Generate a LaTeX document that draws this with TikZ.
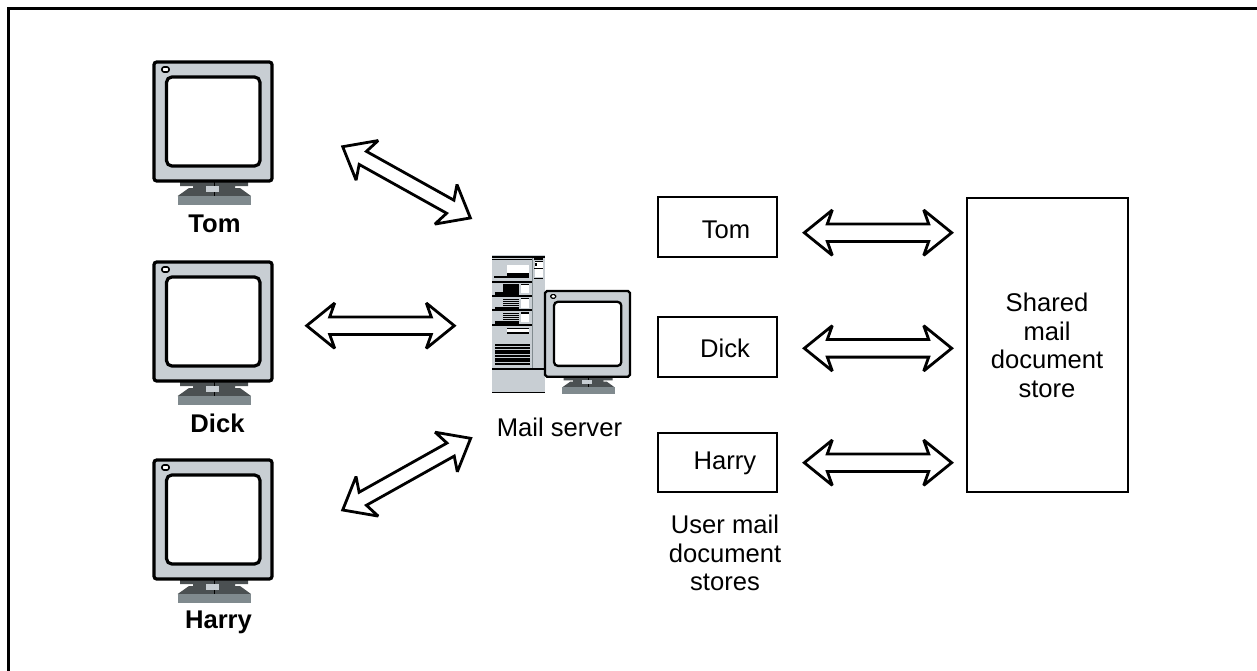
\documentclass[tikz,border=0pt]{standalone}
\usepackage{fontspec}
\setmainfont{Liberation Sans}
\usetikzlibrary{calc}
\definecolor{mgray}{HTML}{C8CED3}
\definecolor{mdark}{HTML}{4B5052}
\definecolor{mbase}{HTML}{808A8E}
\tikzset{
  lbl/.style={font=\fontsize{19.2}{21.5}\selectfont,inner sep=0pt,align=center},
  blbl/.style={lbl,font=\fontsize{19.2}{21.5}\selectfont\bfseries},
  store/.style={draw=black,line width=2pt,fill=white},
  barrow/.style={draw=black,fill=white,line width=2.1pt,line join=miter,miter limit=3},
  blk/.style={fill=black,draw=none},
  wht/.style={fill=white,draw=none},
}
% #1 tip A, #2 tip B (named coordinates), #3 shaft half width in pt
\newcommand{\blockarrow}[3]{%
  \draw[barrow]
   let \p1=(#1),\p2=(#2),\n1={veclen(\x2-\x1,\y2-\y1)},\n2={atan2(\y2-\y1,\x2-\x1)} in
   [shift={(\p1)},rotate=\n2]
   (0pt,0pt) -- (21pt,17pt) -- (17.25pt,#3) -- ({\n1-17.25pt},#3) -- ({\n1-21pt},17pt)
   -- ({\n1},0pt) -- ({\n1-21pt},-17pt) -- ({\n1-17.25pt},-#3)
   -- (17.25pt,-#3) -- (21pt,-17pt) -- cycle;}
% monitor: #1 left, #2 top, #3 scale
\newcommand{\monitor}[3]{%
 \begin{scope}[shift={(#1,#2)},x=#3*0.75pt,y=#3*0.75pt]
  % stand
  \fill[mdark] (26,-119) -- (94,-119) -- (94,-124) -- (81,-124) -- (81,-126) -- (86,-126) -- (97,-134) -- (23.7,-134) -- (35,-126) -- (39,-126) -- (39,-124) -- (26,-124) -- cycle;
  \fill[mbase] (23.7,-134) rectangle (97,-143);
  \draw[black,line width=0.5pt] (60,-119) -- (60,-134);
  \fill[mgray] (51.5,-123.5) rectangle (65,-129.5);
  \filldraw[fill=mgray,draw=black,line width=#3*2.4pt,rounded corners=#3*2pt] (0,0) rectangle (118,-119);
  \filldraw[fill=white,draw=black,line width=#3*2.4pt,rounded corners=#3*4pt] (12.5,-15) rectangle (106,-104);
  \filldraw[fill=white,draw=black,line width=#3*1.2pt,rounded corners=#3*1.5pt] (8,-5) rectangle (15,-10);
 \end{scope}}
\begin{document}
\begin{tikzpicture}[x=0.75pt,y=0.75pt]
\useasboundingbox (0,0) rectangle (1257,-671);
\fill[white] (0,0) rectangle (1257,-671);
\draw[black,line width=2.2pt] (8.5,-671) -- (8.5,-8.5) -- (1257,-8.5);
\monitor{154}{-62}{1}
\monitor{154}{-262}{1}
\monitor{154}{-460}{1}
\node[blbl] (tomlbl) at (214.5,-224) {Tom};
\node[blbl] (dicklbl) at (217.5,-423) {Dick};
\node[blbl] (harrylbl) at (218.5,-622) {Harry};
% server tower
\begin{scope}[shift={(480,-245)},x=0.25pt,y=0.25pt]
 \fill[mgray] (35,-30) rectangle (195,-445);
 \fill[blk] (35,-32) rectangle (195,-39);
 \fill[blk] (35,-41) rectangle (155,-45);
 \fill[blk] (162,-40) rectangle (188,-44);
 \fill[blk] (165,-47) rectangle (188,-50);
 \fill[wht] (165,-52) rectangle (188,-68);
 \fill[blk] (165,-54) rectangle (171,-62);
 \fill[blk] (163,-70) rectangle (188,-73);
 \fill[wht] (165,-73) rectangle (188,-97);
 \fill[blk] (163,-98) rectangle (188,-101);
 \fill[wht] (80,-60) rectangle (148,-85);
 \fill[blk] (80,-85) rectangle (148,-92);
 \fill[blk] (42,-92) rectangle (148,-100);
 \fill[blk] (35,-108) rectangle (155,-115);
 \foreach \d in {0,43,86}{
  \begin{scope}[yshift=-\d*0.25pt]
   \foreach \y in {118,124,130,136}{\fill[blk] (68,-\y) rectangle (118,-\y-3.6);}
   \fill[wht] (122,-120) rectangle (148,-145);
   \fill[blk] (122,-116) rectangle (148,-120);
   \fill[blk] (45,-142) rectangle (118,-150);
   \fill[blk] (35,-150) rectangle (155,-156);
  \end{scope}}
 \fill[blk] (80,-248) rectangle (148,-252);
 \fill[wht] (80,-252) rectangle (148,-262);
 \fill[blk] (80,-262) rectangle (148,-267);
 \foreach \y in {298,306,314,322,330,338,346,354}{\fill[blk] (45,-\y) rectangle (150,-\y-5.5);}
 \fill[mbase] (155,-40) rectangle (157,-370);
 \fill[blk] (35,-370) rectangle (195,-374);
 \fill[blk] (35,-440) rectangle (195,-445);
\end{scope}
\monitor{545}{-291}{0.72}
\node[lbl] (mail) at (559.5,-427) {Mail server};
\node[store,minimum width=89.25pt,minimum height=45pt] (btom) at (717.5,-227) {};
\node[lbl] at (726,-230) {Tom};
\node[store,minimum width=89.25pt,minimum height=45pt] (bdick) at (717.5,-347) {};
\node[lbl] at (725,-348) {Dick};
\node[store,minimum width=89.25pt,minimum height=44.25pt] (bharry) at (717.5,-462.5) {};
\node[lbl] at (725,-463) {Harry};
\node[store,minimum width=120.75pt,minimum height=220.5pt] (shared) at (1047.5,-345) {};
\node[lbl] at (1047,-345.5) {Shared\\mail\\document\\store};
\node[lbl] (user) at (725,-553) {User mail\\document\\stores};
% arrows
\coordinate (a1) at (342.7,-146.7); \coordinate (b1) at (470.5,-218);
\coordinate (a2) at (306.7,-325.7); \coordinate (b2) at (454.3,-325.7);
\coordinate (a3) at (342.7,-510);   \coordinate (b3) at (470.7,-438.3);
\coordinate (a4) at (804.3,-232.7); \coordinate (b4) at (951.7,-232.7);
\coordinate (a5) at (804.3,-348.3); \coordinate (b5) at (951.7,-348.3);
\coordinate (a6) at (804.3,-462.7); \coordinate (b6) at (951.7,-462.7);
\blockarrow{a1}{b1}{5.6pt}
\blockarrow{a2}{b2}{6.6pt}
\blockarrow{a3}{b3}{5.6pt}
\blockarrow{a4}{b4}{6.6pt}
\blockarrow{a5}{b5}{6.6pt}
\blockarrow{a6}{b6}{6.6pt}
\end{tikzpicture}
\end{document}
